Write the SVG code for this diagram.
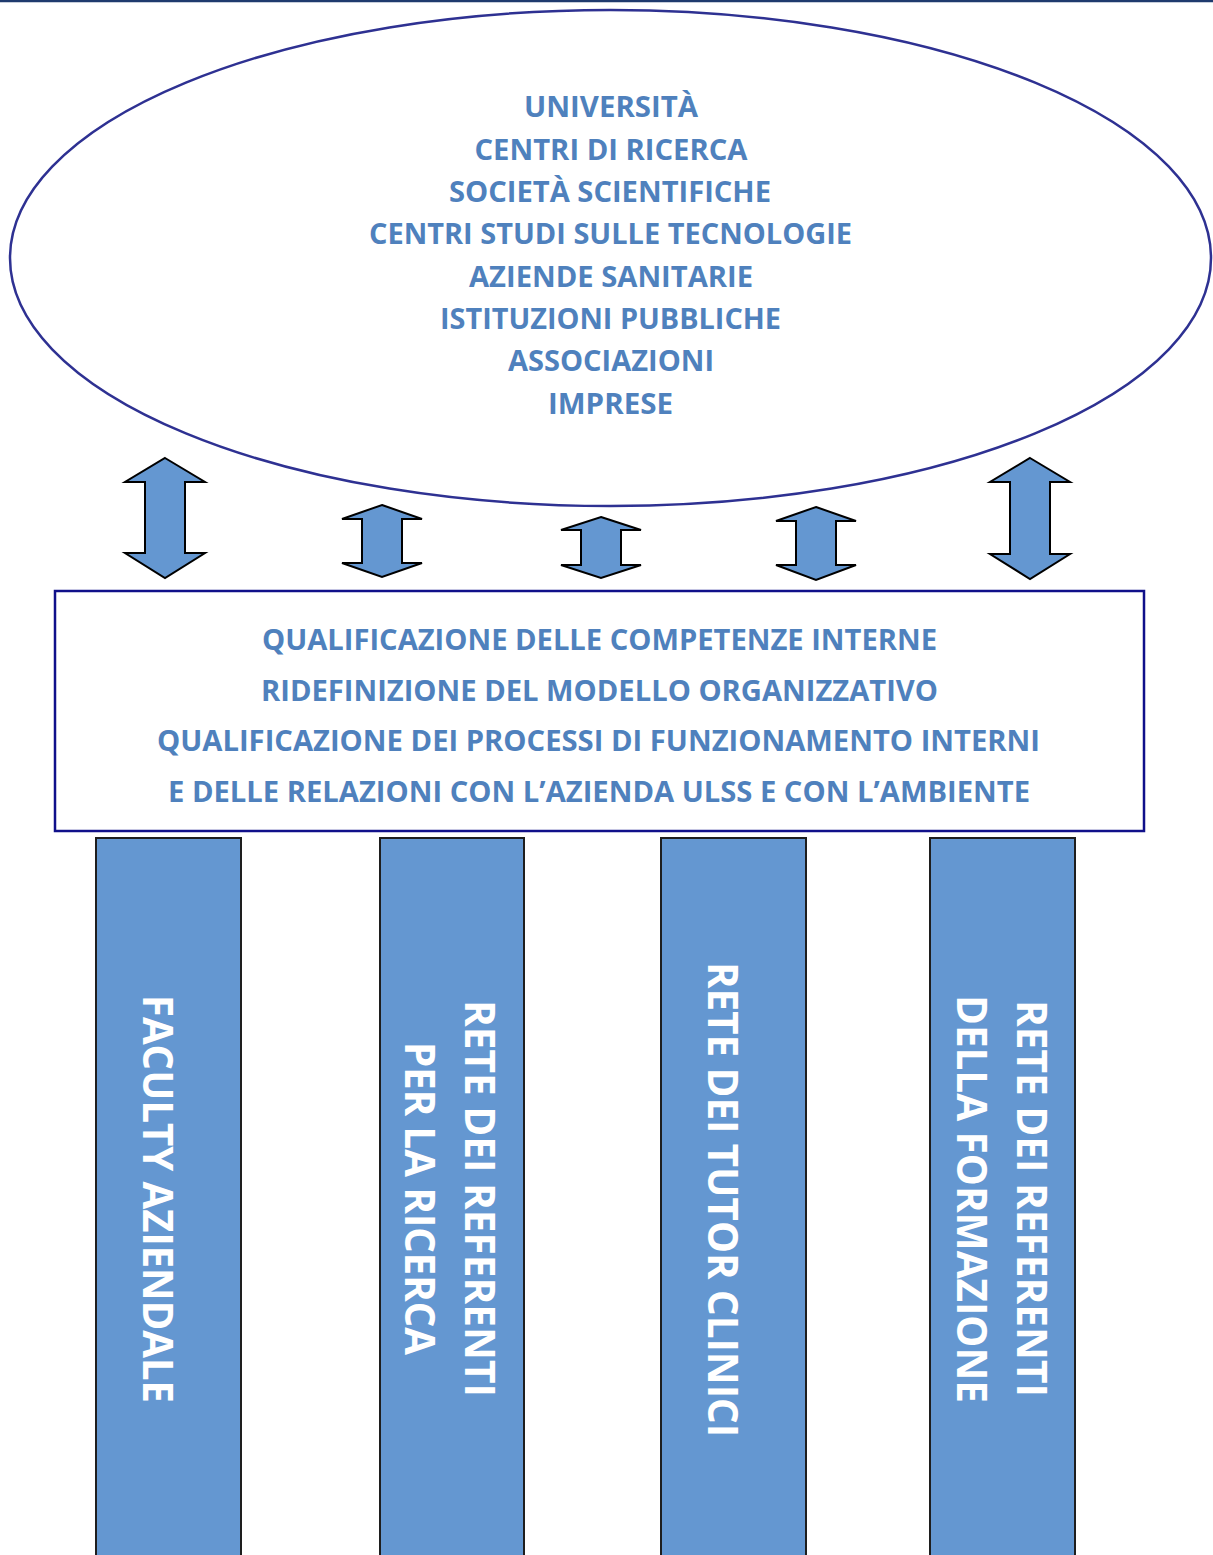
<svg xmlns="http://www.w3.org/2000/svg" width="1213" height="1555" viewBox="0 0 1213 1555">
<style>
.t{font-family:"Open Sans","Noto Sans",sans-serif;font-weight:bold;fill:#4F81BD;text-anchor:middle}
.top{font-size:28px}
.mid{font-size:28.5px}
.v{font-family:"Open Sans","Noto Sans",sans-serif;font-weight:bold;fill:#FFFFFF;font-size:42px;text-anchor:middle}
.col{fill:#6497D1;stroke:#1E1E1E;stroke-width:2}
.arr{fill:#6497D1;stroke:#000;stroke-width:2;stroke-linejoin:miter}
</style>
<rect width="1213" height="1555" fill="#fff"/>
<line x1="0" y1="1" x2="1213" y2="1" stroke="#1F3A6E" stroke-width="2.5"/>
<g id="ellipse-node">
<ellipse cx="610.5" cy="258" rx="600.5" ry="248" fill="none" stroke="#2E3192" stroke-width="2.5"/>
<text class="t top" x="611" y="117" textLength="174" lengthAdjust="spacingAndGlyphs">UNIVERSITÀ</text>
<text class="t top" x="611" y="160" textLength="273" lengthAdjust="spacingAndGlyphs">CENTRI DI RICERCA</text>
<text class="t top" x="610" y="202" textLength="322" lengthAdjust="spacingAndGlyphs">SOCIETÀ SCIENTIFICHE</text>
<text class="t top" x="610.5" y="244" textLength="483" lengthAdjust="spacingAndGlyphs">CENTRI STUDI SULLE TECNOLOGIE</text>
<text class="t top" x="611" y="287" textLength="284" lengthAdjust="spacingAndGlyphs">AZIENDE SANITARIE</text>
<text class="t top" x="610.5" y="329" textLength="341" lengthAdjust="spacingAndGlyphs">ISTITUZIONI PUBBLICHE</text>
<text class="t top" x="611" y="371" textLength="206" lengthAdjust="spacingAndGlyphs">ASSOCIAZIONI</text>
<text class="t top" x="610.5" y="414" textLength="125" lengthAdjust="spacingAndGlyphs">IMPRESE</text>
</g>
<g id="connectors">
<polygon class="arr" points="165,458 205,482 185,482 185,553 205,553 165,578 125,553 145,553 145,482 125,482"/>
<polygon class="arr" points="382,505 422,519 402,519 402,563 422,563 382,577 342,563 362,563 362,519 342,519"/>
<polygon class="arr" points="601,517 641,530 621,530 621,565 641,565 601,578 561,565 581,565 581,530 561,530"/>
<polygon class="arr" points="816,507 856,521 836,521 836,565 856,565 816,580 776,565 796,565 796,521 776,521"/>
<polygon class="arr" points="1030,458 1070,482 1050,482 1050,554 1070,554 1030,579 990,554 1010,554 1010,482 990,482"/>
</g>
<g id="box-node">
<rect x="55" y="591" width="1089" height="240" fill="#fff" stroke="#10108A" stroke-width="2.5"/>
<text class="t mid" x="599.5" y="650" textLength="675" lengthAdjust="spacingAndGlyphs">QUALIFICAZIONE DELLE COMPETENZE INTERNE</text>
<text class="t mid" x="599.5" y="701" textLength="677" lengthAdjust="spacingAndGlyphs">RIDEFINIZIONE DEL MODELLO ORGANIZZATIVO</text>
<text class="t mid" x="598.5" y="751" textLength="883" lengthAdjust="spacingAndGlyphs">QUALIFICAZIONE DEI PROCESSI DI FUNZIONAMENTO INTERNI</text>
<text class="t mid" x="599" y="802" textLength="862" lengthAdjust="spacingAndGlyphs">E DELLE RELAZIONI CON L’AZIENDA ULSS E CON L’AMBIENTE</text>
</g>
<g id="col-faculty">
<rect class="col" x="96" y="838" width="145" height="730"/>
<text class="v" transform="translate(143,1199) rotate(90)" textLength="408" lengthAdjust="spacingAndGlyphs">FACULTY AZIENDALE</text>
</g>
<g id="col-ricerca">
<rect class="col" x="380" y="838" width="144" height="730"/>
<text class="v" transform="translate(465,1198.5) rotate(90)" textLength="397" lengthAdjust="spacingAndGlyphs">RETE DEI REFERENTI</text>
<text class="v" transform="translate(405,1198.5) rotate(90)" textLength="313" lengthAdjust="spacingAndGlyphs">PER LA RICERCA</text>
</g>
<g id="col-tutor">
<rect class="col" x="661" y="838" width="145" height="730"/>
<text class="v" transform="translate(708,1199.5) rotate(90)" textLength="475" lengthAdjust="spacingAndGlyphs">RETE DEI TUTOR CLINICI</text>
</g>
<g id="col-formazione">
<rect class="col" x="930" y="838" width="145" height="730"/>
<text class="v" transform="translate(1017,1198.5) rotate(90)" textLength="397" lengthAdjust="spacingAndGlyphs">RETE DEI REFERENTI</text>
<text class="v" transform="translate(957,1199) rotate(90)" textLength="408" lengthAdjust="spacingAndGlyphs">DELLA FORMAZIONE</text>
</g>
</svg>
